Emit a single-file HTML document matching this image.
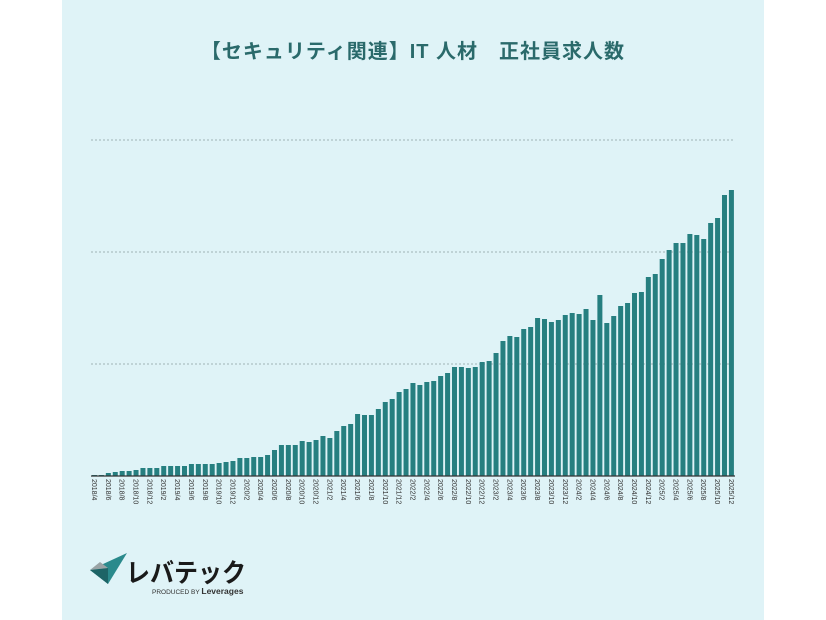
<!DOCTYPE html>
<html><head><meta charset="utf-8"><style>
body{margin:0;width:826px;height:620px;background:#fff;overflow:hidden;font-family:"Liberation Sans","Noto Sans CJK JP",sans-serif}
#panel{position:absolute;left:62px;top:0;width:702px;height:620px;background:#dff3f7}
#title{position:absolute;left:62px;width:702px;top:35px;text-align:center;font-size:20px;font-weight:bold;color:#2a6a6b;letter-spacing:1px;font-family:"Liberation Sans","Noto Sans CJK JP",sans-serif}
</style></head><body>
<div id="panel"></div>
<div id="title">【セキュリティ関連】IT 人材　正社員求人数</div>
<svg id="chart" width="826" height="620" style="position:absolute;left:0;top:0">
<g id="grid"></g><g id="bars"></g><g id="xlabels"></g>
<g>
<polygon points="90,570 127,553 108,584" fill="#2a8a8c"/>
<polygon points="90,570 108,568 108,584" fill="#1d6466"/>
<polygon points="90,570 100,562 108,568" fill="#9aa3a5"/>
<text x="126" y="582" font-size="26" font-weight="bold" fill="#1a1a1a" textLength="120" lengthAdjust="spacingAndGlyphs" font-family="Liberation Sans,Noto Sans CJK JP,sans-serif">レバテック</text>
<text x="152" y="594" font-size="6.5" fill="#333" font-family="Liberation Sans,sans-serif">PRODUCED BY <tspan font-size="8.5" font-weight="bold">Leverages</tspan></text>
</g>
</svg>
<script>
const startYear=2018, startMonth=4;
const values=[1,1,3,4,5,5,6,8,8,8,10,10,10,10,12,12,12,12,13,14,15,18,18,19,19,21,26,31,31,31,35,34,36,40,38,45,50,52,62,61,61,67,74,77,84,87,93,91,94,95,100,103,109,109,108,109,114,115,123,135,140,139,147,149,158,157,154,156,161,163,162,167,156,181,153,160,170,173,183,184,199,202,217,226,233,233,242,241,237,253,258,281,286];
const gridValues=[112,224,336];
const categories=values.map((v,i)=>{const m=startMonth-1+i;return (startYear+Math.floor(m/12))+'/'+(m%12+1);});
const NS='http://www.w3.org/2000/svg';
const baseY=476,x0=94.5,step=6.923,barW=5;
const yScale=v=>baseY-v*1.0;
const xScale=i=>x0+i*step;
const grid=document.getElementById('grid');
gridValues.forEach(g=>{const l=document.createElementNS(NS,'line');
l.setAttribute('x1',91);l.setAttribute('x2',735);l.setAttribute('y1',yScale(g));l.setAttribute('y2',yScale(g));
l.setAttribute('stroke','#9fb3b6');l.setAttribute('stroke-dasharray','2,2');l.setAttribute('stroke-width','1');


grid.appendChild(l);});
const bars=document.getElementById('bars');
values.forEach((v,i)=>{const r=document.createElementNS(NS,'rect');
r.setAttribute('x',xScale(i)-barW/2);r.setAttribute('y',yScale(v));r.setAttribute('width',barW);r.setAttribute('height',baseY-yScale(v));
r.setAttribute('fill','#267f80');


bars.appendChild(r);});
const ax=document.createElementNS(NS,'line');
ax.setAttribute('x1',91);ax.setAttribute('x2',735);ax.setAttribute('y1',baseY);ax.setAttribute('y2',baseY);ax.setAttribute('stroke','#333');ax.setAttribute('stroke-width','1.2');


bars.appendChild(ax);
const xl=document.getElementById('xlabels');
categories.forEach((c,i)=>{if(i%2)return;const t=document.createElementNS(NS,'text');
const x=xScale(i)-2.5,y=479;
t.setAttribute('x',x);t.setAttribute('y',y);t.setAttribute('font-size','7');t.setAttribute('fill','#333');
t.setAttribute('transform','rotate(90 '+x+' '+y+')');t.textContent=c;


xl.appendChild(t);});
</script>
</body></html>
